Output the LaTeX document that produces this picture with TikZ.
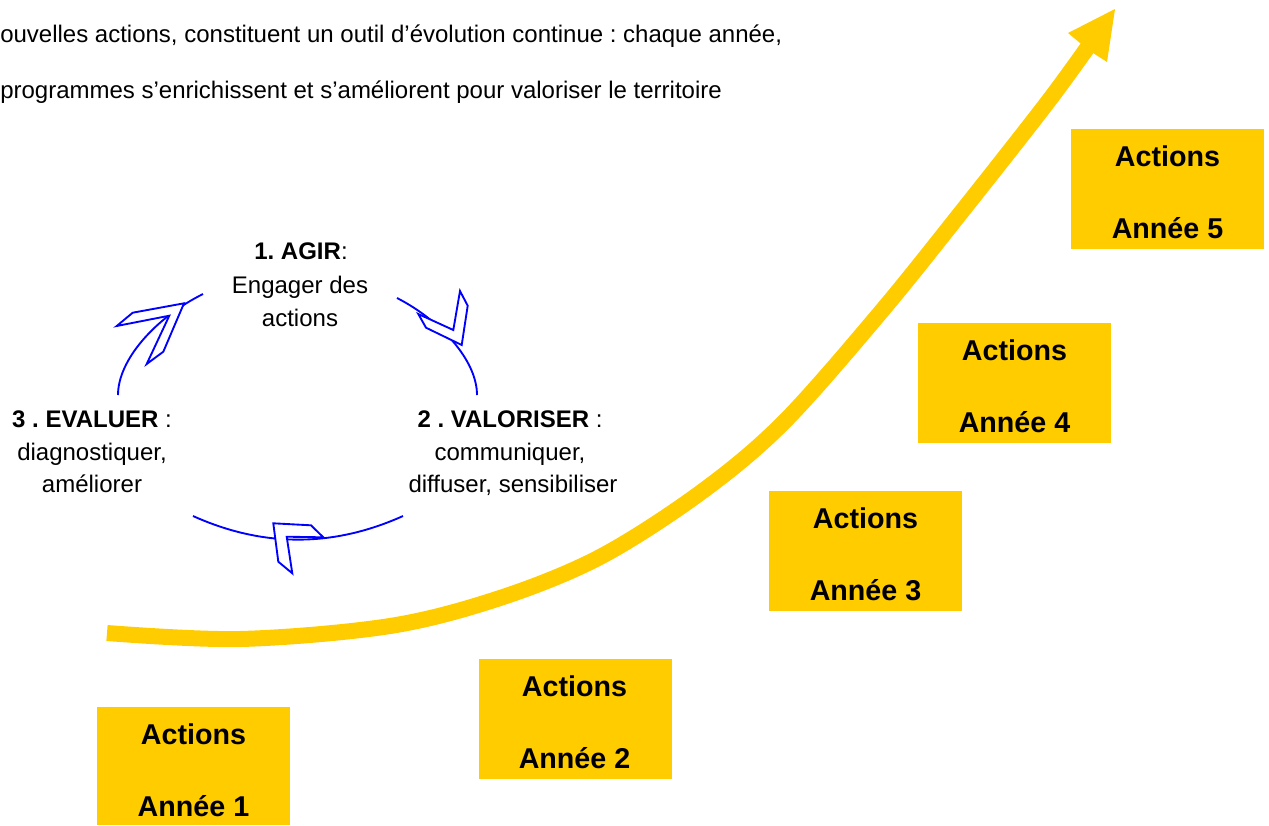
\documentclass[tikz,border=0pt]{standalone}
\usepackage{fontspec}
\setmainfont{Liberation Sans}
\frenchspacing
\definecolor{ayellow}{HTML}{FFCC00}
\definecolor{cblue}{HTML}{0000FF}
\begin{document}
\begin{tikzpicture}[x=0.75pt,y=-0.75pt,
  yearbox/.style={fill=ayellow, draw=none, minimum width=144.75pt, minimum height=90pt, inner sep=0pt, anchor=north west},
  yeartxt/.style={font=\fontsize{21.5}{25}\selectfont\bfseries, anchor=base, inner sep=0pt},
  cyctxt/.style={font=\fontsize{18}{21}\selectfont, anchor=base, inner sep=0pt},
  toptxt/.style={font=\fontsize{18}{21}\selectfont, anchor=base west, inner sep=0pt},
  cycarc/.style={draw=cblue, line width=1.4pt},
  cychead/.style={draw=cblue, fill=white, line width=1.4pt, line join=miter},
  trend/.style={draw=ayellow, line width=12pt},
]
\useasboundingbox (0,0) rectangle (1269,825);

% top text
\node[toptxt] (t1) at (0,42) {ouvelles actions, constituent un outil d’évolution continue : chaque année,};
\node[toptxt] (t2) at (0,98) {programmes s’enrichissent et s’améliorent pour valoriser le territoire};

% yellow boxes
\node[yearbox, minimum height=88.5pt] (b1) at (97,707) {};
\node[yearbox] (b2) at (479,659) {};
\node[yearbox] (b3) at (769,491) {};
\node[yearbox] (b4) at (918,323) {};
\node[yearbox] (b5) at (1071,129) {};

\node[yeartxt] (a1) at (193.5,744) {Actions};
\node[yeartxt] (y1) at (193.5,816) {Année 1};
\node[yeartxt] (a2) at (574.5,696) {Actions};
\node[yeartxt] (y2) at (574.5,768) {Année 2};
\node[yeartxt] (a3) at (865.5,528) {Actions};
\node[yeartxt] (y3) at (865.5,600) {Année 3};
\node[yeartxt] (a4) at (1014.5,360) {Actions};
\node[yeartxt] (y4) at (1014.5,432) {Année 4};
\node[yeartxt] (a5) at (1167.5,166) {Actions};
\node[yeartxt] (y5) at (1167.5,238) {Année 5};

% trend arrow
\draw[trend] plot[smooth, tension=0.55] coordinates {(107,633) (240,639) (390,626) (500,598) (600,557) (700,493) (783,423) (880,313) (963,210) (1047,103) (1090,44)};
\fill[ayellow] (1115,9) -- (1068,33) -- (1080,43) -- (1093,53) -- (1107,62) -- cycle;

% cycle arcs
\draw[cycarc] (118,395) .. controls (118,360) and (155,318) .. (203,294);
\draw[cycarc] (397,298) .. controls (440,320) and (477,360) .. (477,395);
\draw[cycarc] (193,516) .. controls (263,547.5) and (333,547.5) .. (403,516);
% cycle arrowheads
\draw[cychead] (184,303.3) -- (132.7,312.7) -- (116.7,326) -- (169.3,315.7) -- (146.7,364) -- (163.3,351.7) -- cycle;
\draw[cychead] (460,291) -- (467.7,305.7) -- (461.7,345) -- (426,327.7) -- (418.3,314) -- (453.3,330) -- cycle;
\draw[cychead] (273.3,523.3) -- (311,525.3) -- (323.3,537.3) -- (286.7,536.7) -- (292.3,573.3) -- (278.3,561.7) -- cycle;

% cycle labels
\node[cyctxt] (agir1) at (301,259) {\textbf{1. AGIR}:};
\node[cyctxt] (agir2) at (300,293) {Engager des};
\node[cyctxt] (agir3) at (300,326) {actions};
\node[cyctxt] (val1) at (510,427) {\textbf{2 . VALORISER} :};
\node[cyctxt] (val2) at (510,460) {communiquer,};
\node[cyctxt] (val3) at (513,492) {diffuser, sensibiliser};
\node[cyctxt] (eva1) at (92,427) {\textbf{3 . EVALUER} :};
\node[cyctxt] (eva2) at (92,460) {diagnostiquer,};
\node[cyctxt] (eva3) at (92,492) {améliorer};
\end{tikzpicture}
\end{document}
